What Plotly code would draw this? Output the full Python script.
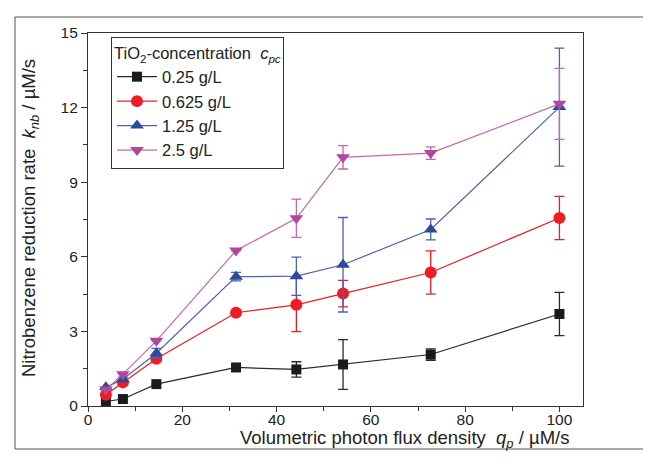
import plotly.graph_objects as go

# ---- data ----
qp = [3.8, 7.4, 14.5, 31.4, 44.2, 54.1, 72.7, 100]

k_025 = [0.18, 0.28, 0.88, 1.55, 1.47, 1.67, 2.07, 3.70]
e_025 = [0, 0, 0, 0, 0.31, 1.00, 0.23, 0.87]

k_0625 = [0.45, 0.95, 1.90, 3.75, 4.07, 4.52, 5.37, 7.56]
e_0625 = [0, 0, 0.08, 0, 1.08, 0.53, 0.87, 0.87]

k_125 = [0.75, 1.08, 2.12, 5.20, 5.22, 5.68, 7.10, 12.02]
e_125 = [0, 0.08, 0.20, 0.17, 0.77, 1.90, 0.42, 2.37]

k_25 = [0.66, 1.28, 2.62, 6.25, 7.55, 10.00, 10.17, 12.15]
e_25 = [0, 0, 0, 0, 0.77, 0.47, 0.25, 1.43]

names = ["0.25 g/L", "0.625 g/L", "1.25 g/L", "2.5 g/L"]
x_ticks = [0, 20, 40, 60, 80, 100]
y_ticks = [0, 3, 6, 9, 12, 15]

series = [
    (names[0], k_025, e_025, "square", "#1b1b1b", "#2a2a2a", 10),
    (names[1], k_0625, e_0625, "circle", "#ee1c25", "#ee1c25", 12),
    (names[2], k_125, e_125, "triangle-up", "#2b4a9f", "#4a62b2", 12),
    (names[3], k_25, e_25, "triangle-down", "#b0479a", "#c566b3", 12),
]

FONT = "Liberation Sans, Arial, sans-serif"
INK = "#222"

fig = go.Figure()
for name, y, err, sym, mcol, lcol, size in series:
    fig.add_trace(go.Scatter(
        x=qp, y=y, name=name, mode="lines+markers",
        line=dict(color=lcol, width=1.2),
        marker=dict(symbol=sym, size=size, color=mcol, line=dict(width=0)),
        error_y=dict(type="data", array=err, visible=True, color=lcol,
                     thickness=1.3, width=5),
    ))

L, T, W, H = 80, 25, 495, 373
R = 651 - L - W
B = 469 - T - H

def px_x(px):
    return (px - L) / W

def px_y(py):
    return (T + H - py) / H

fig.update_layout(
    width=651, height=469,
    margin=dict(l=L, r=R, t=T, b=B),
    paper_bgcolor="white", plot_bgcolor="white",
    font=dict(family=FONT, size=15, color=INK),
    showlegend=True,
    legend=dict(
        x=px_x(103), y=px_y(29), xanchor="left", yanchor="top",
        bordercolor="#333", borderwidth=1, bgcolor="white",
        font=dict(family=FONT, size=16.5, color=INK),
        title=dict(text="TiO<sub>2</sub>-concentration  <i>c</i><sub><i>pc</i></sub>",
                   font=dict(family=FONT, size=16.5, color=INK)),
        itemwidth=40, tracegroupgap=0,
    ),
    xaxis=dict(
        range=[0, 105], tickvals=x_ticks, ticks="outside", ticklen=5, tickwidth=1.2,
        tickcolor="#333", showline=True, linecolor="#333", linewidth=1.2, mirror=True,
        showgrid=False, zeroline=False, ticklabelstandoff=-6,
        minor=dict(dtick=10, tick0=0, ticks="outside", ticklen=4, tickwidth=1.2,
                   tickcolor="#333", showgrid=False),
        tickfont=dict(size=15.5),
    ),
    yaxis=dict(
        range=[0, 15], tickvals=y_ticks, ticks="outside", ticklen=6, tickwidth=1.2,
        tickcolor="#333", showline=True, linecolor="#333", linewidth=1.2, mirror=True,
        showgrid=False, zeroline=False,
        minor=dict(dtick=1.5, tick0=0, ticks="outside", ticklen=4, tickwidth=1.2,
                   tickcolor="#333", showgrid=False),
        tickfont=dict(size=15.5),
    ),
    annotations=[
        dict(text="Volumetric photon flux density  <i>q</i><sub><i>p</i></sub> / µM/s",
             xref="paper", yref="paper", x=px_x(396), y=px_y(431),
             xanchor="center", yanchor="middle", showarrow=False,
             font=dict(family=FONT, size=18.5, color=INK)),
        dict(text="Nitrobenzene reduction rate  <i>k</i><sub><i>nb</i></sub> / µM/s",
             xref="paper", yref="paper", x=px_x(22), y=px_y(210),
             xanchor="center", yanchor="middle", showarrow=False, textangle=-90,
             font=dict(family=FONT, size=18.5, color=INK)),
    ],
    shapes=[dict(type="rect", xref="paper", yref="paper",
                 x0=px_x(7), x1=px_x(649), y0=px_y(441), y1=px_y(9),
                 line=dict(color="#555", width=1), fillcolor="rgba(0,0,0,0)", layer="below")],
)

fig.write_html("out.html")
